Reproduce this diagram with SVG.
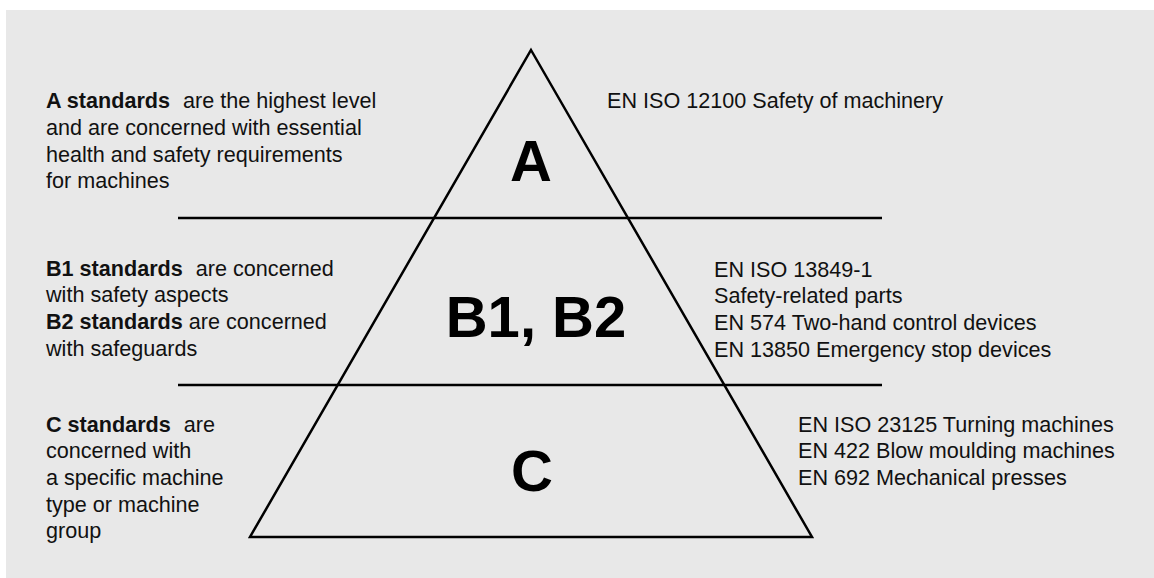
<svg xmlns="http://www.w3.org/2000/svg" width="1154" height="578" viewBox="0 0 1154 578">
<style>
.t{font-family:"Liberation Sans",Arial,sans-serif;font-size:21.6px;fill:#111}
.b{font-weight:bold}
.big{font-family:"Liberation Sans",Arial,sans-serif;font-size:58px;font-weight:bold;fill:#000;text-anchor:middle}
.ln{stroke:#000;stroke-width:2.5;fill:none}
</style>
<rect x="6" y="10" width="1148" height="568" fill="#e8e8e8"/>
<g id="connectors">
<line class="ln" x1="178" y1="218" x2="882" y2="218"/>
<line class="ln" x1="178" y1="385" x2="882" y2="385"/>
</g>
<g id="pyramid">
<polygon class="ln" points="531,50 812,537 250,537"/>
</g>
<g id="levelA">
<text class="big" x="531" y="181">A</text>
<text class="t" x="46" y="108"><tspan class="b">A standards</tspan><tspan dx="13">are the highest level</tspan></text>
<text class="t" x="46" y="135">and are concerned with essential</text>
<text class="t" x="46" y="162">health and safety requirements</text>
<text class="t" x="46" y="188">for machines</text>
<text class="t" x="607" y="108">EN ISO 12100 Safety of machinery</text>
</g>
<g id="levelB">
<text class="big" x="536" y="337">B1, B2</text>
<text class="t" x="46" y="276"><tspan class="b">B1 standards</tspan><tspan dx="13">are concerned</tspan></text>
<text class="t" x="46" y="302">with safety aspects</text>
<text class="t" x="46" y="329"><tspan class="b">B2 standards</tspan><tspan dx="6">are concerned</tspan></text>
<text class="t" x="46" y="356">with safeguards</text>
<text class="t" x="714" y="277">EN ISO 13849-1</text>
<text class="t" x="714" y="303">Safety-related parts</text>
<text class="t" x="714" y="330">EN 574 Two-hand control devices</text>
<text class="t" x="714" y="357">EN 13850 Emergency stop devices</text>
</g>
<g id="levelC">
<text class="big" x="532" y="491">C</text>
<text class="t" x="46" y="432"><tspan class="b">C standards</tspan><tspan dx="13">are</tspan></text>
<text class="t" x="46" y="458">concerned with</text>
<text class="t" x="46" y="485">a specific machine</text>
<text class="t" x="46" y="512">type or machine</text>
<text class="t" x="46" y="538">group</text>
<text class="t" x="798" y="432">EN ISO 23125 Turning machines</text>
<text class="t" x="798" y="458">EN 422 Blow moulding machines</text>
<text class="t" x="798" y="485">EN 692 Mechanical presses</text>
</g>
</svg>
